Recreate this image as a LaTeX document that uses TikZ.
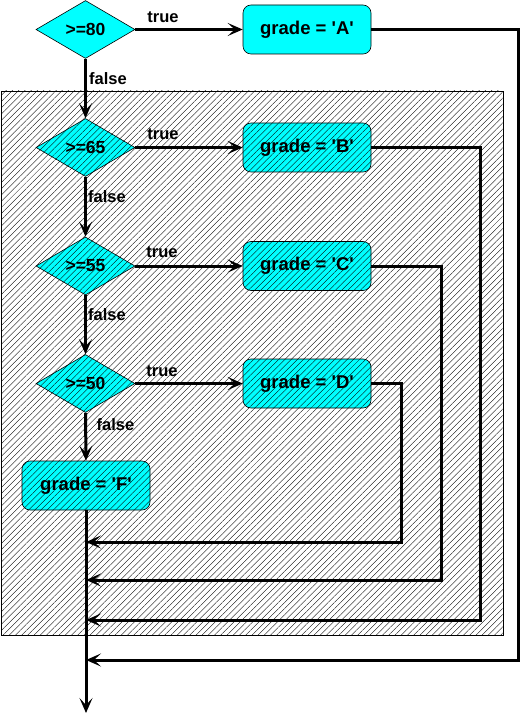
\documentclass[tikz,border=0pt]{standalone}
\usepackage{fontspec}
\setmainfont{Liberation Sans}
\usetikzlibrary{shapes.geometric,arrows.meta,patterns.meta}

\definecolor{boxfill}{RGB}{0,255,255}
\newcommand{\sq}{\textquotesingle}

\tikzset{
  decision/.style={diamond, draw=black, line width=0.6pt, fill=boxfill,
    inner sep=0pt, minimum width=99pt, minimum height=58pt, aspect=1.7,
    font=\fontsize{17.5}{17.5}\selectfont\bfseries},
  action/.style={rectangle, rounded corners=8pt, draw=black, line width=0.6pt,
    fill=boxfill, minimum width=128pt, minimum height=49pt, inner sep=0pt,
    font=\fontsize{18.5}{18.5}\selectfont\bfseries},
  flow/.style={line width=3pt, -{Stealth[length=15pt, width=13pt, inset=7pt]}},
  lbl/.style={font=\fontsize{16.5}{16.5}\selectfont\bfseries, inner sep=0pt},
}

\begin{document}
\begin{tikzpicture}[x=1pt, y=-1pt]
  \useasboundingbox (0,0) rectangle (520,719);

  % decisions
  \node[decision] (d80) at (85.5,29.5) {>=80};
  \node[decision] (d65) at (85.5,147.5) {>=65};
  \node[decision] (d55) at (85.5,266) {>=55};
  \node[decision] (d50) at (85.5,383.5) {>=50};

  % assignments
  \node[action] (gA) at (307,29.5) {grade = \sq A\sq};
  \node[action] (gB) at (307,147.5) {grade = \sq B\sq};
  \node[action] (gC) at (307,266) {grade = \sq C\sq};
  \node[action] (gD) at (307,383.5) {grade = \sq D\sq};
  \node[action] (gF) at (86,485.5) {grade = \sq F\sq};

  % merge points on the main line
  \coordinate (jD) at (86,542);
  \coordinate (jC) at (86,580);
  \coordinate (jB) at (86,620);
  \coordinate (jA) at (86,660);
  \coordinate (out) at (86,713);

  % true branches
  \draw[flow] (d80.east) -- (gA.west);
  \draw[flow] (d65.east) -- (gB.west);
  \draw[flow] (d55.east) -- (gC.west);
  \draw[flow] (d50.east) -- (gD.west);
  \node[lbl] (t80) at (163,17) {true};
  \node[lbl] (t65) at (163,134) {true};
  \node[lbl] (t55) at (162,252) {true};
  \node[lbl] (t50) at (162,371) {true};

  % false branches
  \draw[flow] (d80.south) -- (d65.north);
  \draw[flow] (d65.south) -- (d55.north);
  \draw[flow] (d55.south) -- (d50.north);
  \draw[flow] (d50.south) -- (gF.north);
  \node[lbl] (f80) at (108,79) {false};
  \node[lbl] (f65) at (107,197) {false};
  \node[lbl] (f55) at (107,315) {false};
  \node[lbl] (f50) at (115.5,425) {false};

  % exit line and returns
  \draw[flow] (gF.south) -- (out);
  \draw[flow] (gD.east) -- ++(30,0) |- (jD);
  \draw[flow] (gC.east) -- ++(70,0) |- (jC);
  \draw[flow] (gB.east) -- ++(109,0) |- (jB);
  \draw[flow] (gA.east) -- ++(147,0) |- (jA);

  % hatched region laid over the inner tests
  \path[pattern={Lines[angle=45, distance=4.4pt, line width=0.35pt]}, pattern color=black]
    (1,91) rectangle (503,635);
  \draw[line width=0.8pt, black] (1,91) rectangle (503,635);
\end{tikzpicture}
\end{document}
